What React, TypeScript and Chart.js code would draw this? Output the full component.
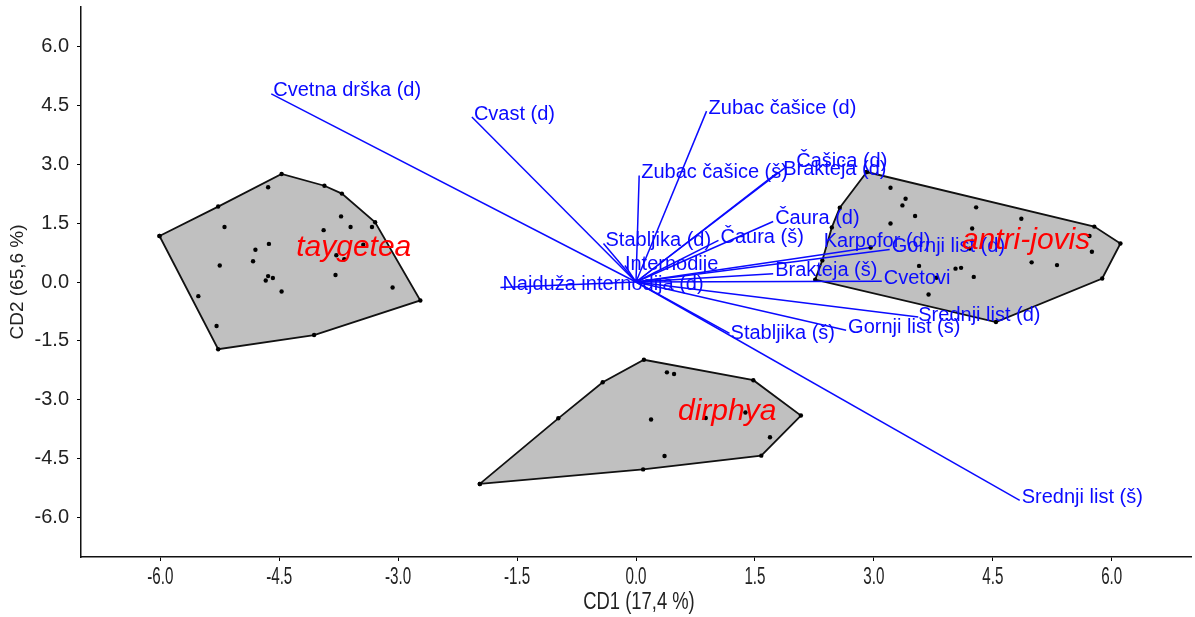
import React, { useEffect, useRef } from "react";
import { Chart, registerables } from "chart.js";

Chart.register(...registerables);

type Pt = [number, number];

// Axis ticks (CD1 / CD2)
const xTickValues = [-6, -4.5, -3, -1.5, 0, 1.5, 3, 4.5, 6];
const yTickValues = [-6, -4.5, -3, -1.5, 0, 1.5, 3, 4.5, 6];
const xTitle = "CD1 (17,4 %)";
const yTitle = "CD2 (65,6 %)";

// Group names
const groupNames = ["taygetea", "dirphya", "antri-jovis"];

// Convex hull vertices of each group (CD1, CD2)
const taygeteaHull: Pt[] = [
  [-6.01, 1.17], [-5.27, 1.92], [-4.47, 2.75], [-3.93, 2.45], [-3.71, 2.25],
  [-3.29, 1.52], [-2.72, -0.47], [-4.06, -1.35], [-5.27, -1.71],
];
const dirphyaHull: Pt[] = [
  [-1.97, -5.14], [-0.98, -3.47], [-0.42, -2.55], [0.1, -1.98], [1.48, -2.5],
  [2.08, -3.4], [1.58, -4.42], [0.09, -4.77],
];
const antriJovisHull: Pt[] = [
  [2.91, 2.8], [5.78, 1.41], [6.11, 0.98], [5.88, 0.09], [4.54, -1.02],
  [2.26, 0.06], [2.35, 0.55], [2.47, 1.39], [2.57, 1.89],
];

// Remaining individuals inside each hull
const taygeteaInner: Pt[] = [
  [-4.64, 2.41], [-5.19, 1.4], [-3.72, 1.67], [-3.94, 1.32], [-3.6, 1.4],
  [-3.33, 1.4], [-4.63, 0.97], [-4.8, 0.82], [-4.83, 0.53], [-5.25, 0.42],
  [-3.44, 0.95], [-3.78, 0.68], [-3.68, 0.58], [-3.79, 0.18], [-4.64, 0.15],
  [-4.58, 0.1], [-4.67, 0.04], [-4.47, -0.24], [-3.07, -0.14], [-5.52, -0.36],
  [-5.29, -1.12],
];
const dirphyaInner: Pt[] = [
  [0.39, -2.3], [0.48, -2.34], [0.19, -3.5], [0.88, -3.46], [1.38, -3.32],
  [1.69, -3.95], [0.36, -4.43],
];
const antriJovisInner: Pt[] = [
  [3.21, 2.4], [3.4, 2.12], [3.36, 1.95], [3.52, 1.68], [4.29, 1.9],
  [4.86, 1.61], [3.21, 1.49], [4.24, 1.36], [5.72, 1.17], [5.75, 0.77],
  [4.21, 0.85], [4.99, 0.5], [5.31, 0.43], [3.57, 0.41], [4.03, 0.34],
  [4.1, 0.36], [4.26, 0.13], [3.79, 0.11], [3.69, -0.32], [2.96, 0.88],
];

// Group label anchors (CD1, CD2)
const groupLabelAt: Pt[] = [[-3.56, 0.88], [1.15, -3.29], [4.92, 1.06]];

// Variable loadings (structure vectors)
const vectorNames = [
  "Cvetna drška (d)", "Cvast (d)", "Zubac čašice (d)", "Zubac čašice (š)",
  "Čašica (d)", "Brakteja (d)", "Čaura (d)", "Čaura (š)", "Stabljika (d)",
  "Internodije", "Najduža internodija (d)", "Karpofor (d)", "Gornji list (d)",
  "Brakteja (š)", "Cvetovi", "Srednji list (d)", "Gornji list (š)",
  "Stabljika (š)", "Srednji list (š)",
];
const vectorCD1 = [
  -4.6, -2.07, 0.89, 0.04, 1.87, 1.78, 1.73, 1.04, -0.41, -0.14, -1.71, 2.96,
  3.2, 1.73, 3.1, 3.56, 2.65, 1.18, 4.84,
];
const vectorCD2 = [
  4.79, 4.2, 4.35, 2.71, 2.89, 2.78, 1.54, 1.06, 0.98, 0.42, -0.14, 0.88,
  0.83, 0.21, 0.02, -0.89, -1.23, -1.31, -5.56,
];

// Pixel nudges for labels that sit away from their vector tip
const labelNudge: Record<string, [number, number]> = {
  "Čašica (d)": [12, -7],
  "Brakteja (d)": [6, -3],
  "Karpofor (d)": [-47, -6],
  "Internodije": [0, -1],
  "Srednji list (d)": [0, -1],
  "Stabljika (š)": [1, 0],
};

const SANS = '"Liberation Sans", Arial, sans-serif';
const BLUE = "#0a0aff";
const INK = "#222222";

const toXY = (pts: Pt[]) => pts.map(([x, y]) => ({ x, y }));

// Draws the condensed CD1 tick labels and title, the loading names and group names
const labelPlugin = {
  id: "biplotLabels",
  afterDatasetsDraw(chart: any) {
    const { ctx, scales, chartArea } = chart;
    const xs = scales.x;
    const ys = scales.y;
    ctx.save();
    ctx.textBaseline = "middle";
    ctx.textAlign = "left";
    ctx.fillStyle = BLUE;
    ctx.font = `20px ${SANS}`;
    vectorNames.forEach((name, i) => {
      const [dx, dy] = labelNudge[name] ?? [2, -3];
      const px = xs.getPixelForValue(vectorCD1[i]) + dx;
      const py = ys.getPixelForValue(vectorCD2[i]) + dy;
      ctx.fillText(name, px, py);
    });
    ctx.textAlign = "center";
    ctx.fillStyle = "#ff0000";
    ctx.font = `italic 30px ${SANS}`;
    groupNames.forEach((g, i) => {
      const [gx, gy] = groupLabelAt[i];
      ctx.fillText(g, xs.getPixelForValue(gx), ys.getPixelForValue(gy));
    });

    // CD1 axis text (narrow lettering)
    ctx.fillStyle = INK;
    ctx.font = `23px ${SANS}`;
    xTickValues.forEach((v) => {
      ctx.save();
      ctx.translate(xs.getPixelForValue(v), chartArea.bottom + 21);
      ctx.scale(0.66, 1);
      ctx.fillText(v.toFixed(1), 0, 0);
      ctx.restore();
    });
    ctx.save();
    ctx.font = `23px ${SANS}`;
    ctx.translate((chartArea.left + chartArea.right) / 2 + 3, chartArea.bottom + 46);
    ctx.scale(0.8, 1);
    ctx.fillText(xTitle, 0, 0);
    ctx.restore();
    ctx.restore();
  },
};

export default function App() {
  const canvasRef = useRef<HTMLCanvasElement | null>(null);

  useEffect(() => {
    if (!canvasRef.current) return;

    const hulls = [taygeteaHull, dirphyaHull, antriJovisHull].map((h) => ({
      type: "scatter" as const,
      data: toXY([...h, h[0]]),
      showLine: true,
      fill: "shape",
      backgroundColor: "#c0c0c0",
      borderColor: "#111111",
      borderWidth: 1.8,
      pointRadius: 2.2,
      pointBackgroundColor: "#000000",
      pointBorderWidth: 0,
      order: 3,
    }));

    const inner = [taygeteaInner, dirphyaInner, antriJovisInner].map((p) => ({
      type: "scatter" as const,
      data: toXY(p),
      showLine: false,
      pointRadius: 2.2,
      pointBackgroundColor: "#000000",
      pointBorderWidth: 0,
      order: 1,
    }));

    const vectors = vectorNames.map((_, i) => ({
      type: "scatter" as const,
      data: [
        { x: 0, y: 0 },
        { x: vectorCD1[i], y: vectorCD2[i] },
      ],
      showLine: true,
      fill: false,
      borderColor: BLUE,
      borderWidth: 1.5,
      pointRadius: 0,
      order: 2,
    }));

    const chart = new Chart(canvasRef.current, {
      type: "scatter",
      data: { datasets: [...hulls, ...vectors, ...inner] as any },
      plugins: [labelPlugin],
      options: {
        animation: false,
        responsive: false,
        devicePixelRatio: 1,
        layout: { padding: { top: 7, right: 0, left: 0, bottom: 0 } },
        plugins: {
          legend: { display: false },
          tooltip: { enabled: false },
        },
        scales: {
          x: {
            type: "linear",
            min: -7,
            max: 7,
            afterBuildTicks: (axis: any) => {
              axis.ticks = xTickValues.map((v) => ({ value: v }));
            },
            afterFit: (axis: any) => {
              axis.height = 60;
              axis.paddingLeft = 0;
              axis.paddingRight = 0;
            },
            ticks: { display: false },
            grid: {
              display: true,
              drawOnChartArea: false,
              drawTicks: true,
              tickLength: 4,
              color: "#000000",
            },
            border: { display: true, color: "#111111", width: 1.5 },
            title: { display: false },
          },
          y: {
            type: "linear",
            min: -7,
            max: 7,
            afterBuildTicks: (axis: any) => {
              axis.ticks = yTickValues.map((v) => ({ value: v }));
            },
            afterFit: (axis: any) => {
              axis.width = 81;
              axis.paddingTop = 0;
              axis.paddingBottom = 0;
            },
            ticks: {
              callback: (v: any) => Number(v).toFixed(1),
              font: { family: SANS, size: 20 },
              color: INK,
              padding: 8,
            },
            grid: {
              display: true,
              drawOnChartArea: false,
              drawTicks: true,
              tickLength: 4,
              color: "#000000",
            },
            border: { display: true, color: "#111111", width: 1.5 },
            title: {
              display: true,
              text: yTitle,
              font: { family: SANS, size: 19 },
              color: INK,
              padding: { top: 6, bottom: 0 },
            },
          },
        },
      } as any,
    });

    return () => chart.destroy();
  }, []);

  return (
    <div style={{ position: "fixed", left: 0, top: 0, width: 1195, height: 617, background: "#ffffff" }}>
      <canvas ref={canvasRef} width={1195} height={617} />
    </div>
  );
}
